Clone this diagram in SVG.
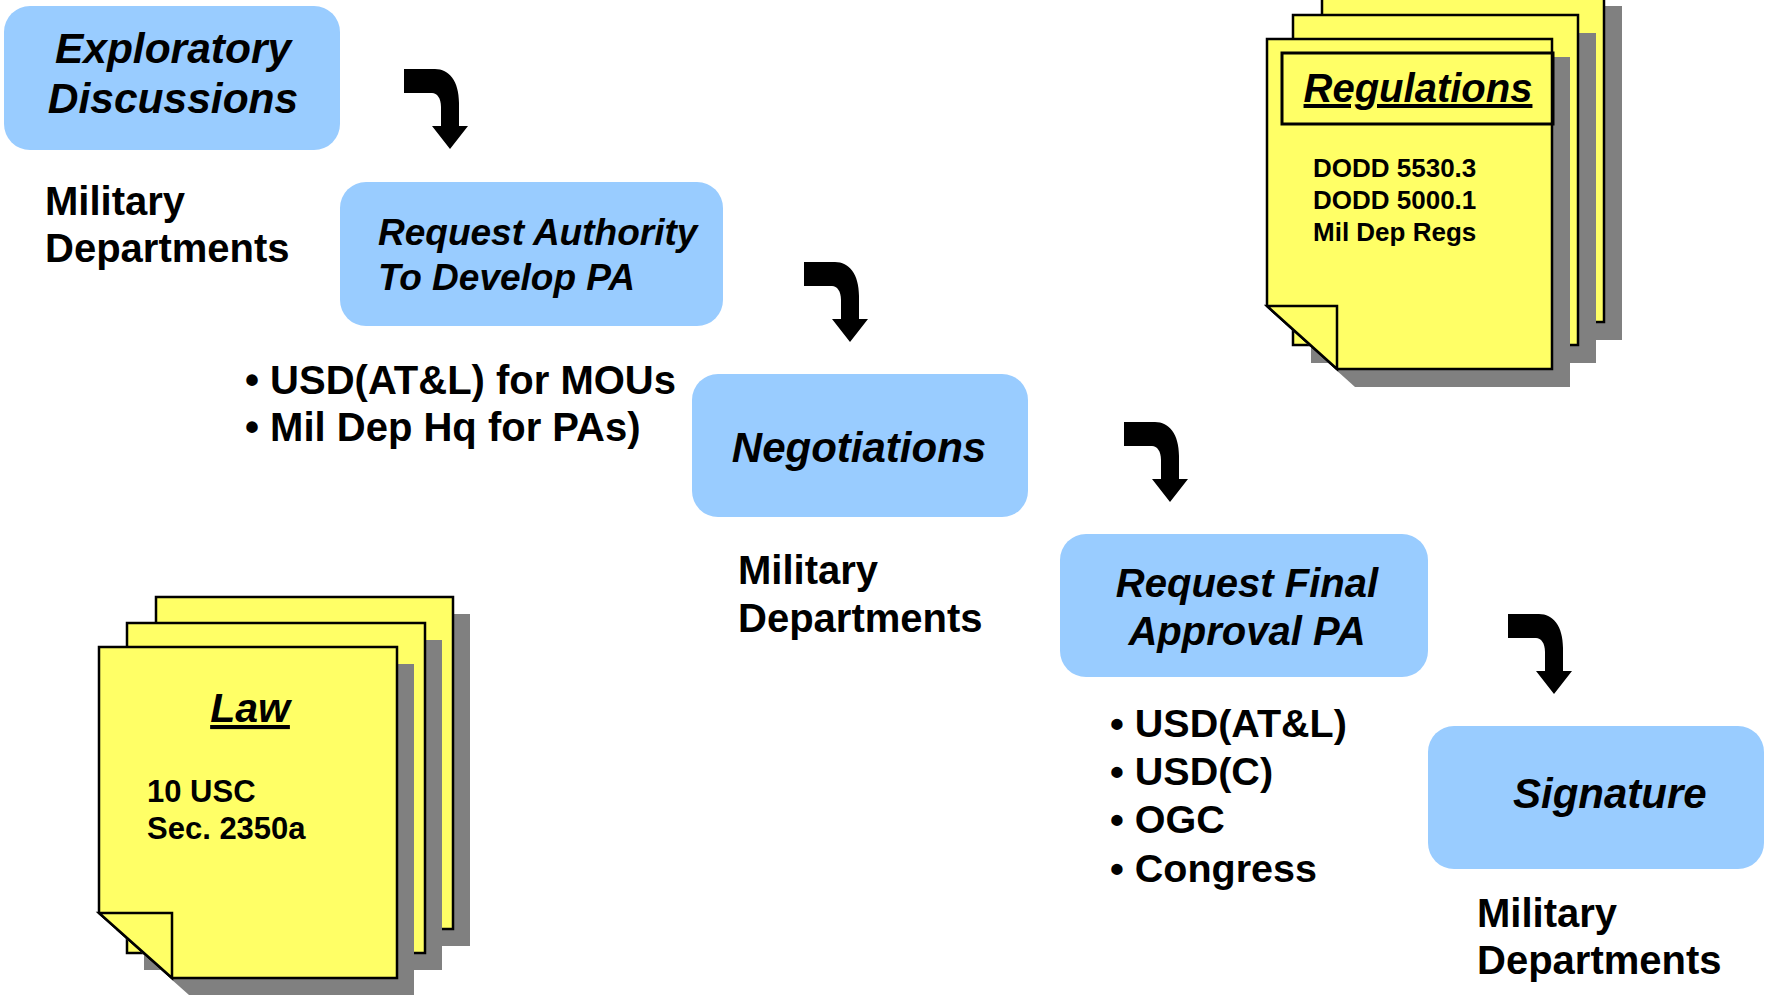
<svg xmlns="http://www.w3.org/2000/svg" width="1767" height="995" viewBox="0 0 1767 995">
  <defs>
    <style>
      .step { fill: #99CCFF; }
      .page { fill: #FFFF66; stroke: #000; stroke-width: 2.5; stroke-linejoin: miter; }
      .shadow { fill: #808080; }
      .title { font-family: "Liberation Sans", Arial, sans-serif; font-weight: bold; font-style: italic; fill: #000; }
      .label { font-family: "Liberation Sans", Arial, sans-serif; font-weight: bold; fill: #000; }
      .flow { fill: #000; }
    </style>
    <!-- bent down-arrow used between consecutive steps -->
    <path id="bend" d="M0,0 H31 C45,0 55,12 55,34 V57 H64 L46,80 L28,57 H37 V38 C37,29 33,24 28,24 H0 Z"/>
  </defs>

  <rect width="1767" height="995" fill="#fff"/>

  <!-- Regulations document stack -->
  <g id="regulations">
    <rect class="shadow" x="1340" y="6" width="282" height="334"/>
    <rect class="page" x="1322" y="-12" width="282" height="334"/>
    <rect class="shadow" x="1311" y="33" width="285" height="330"/>
    <rect class="page" x="1293" y="15" width="285" height="330"/>
    <path class="shadow" d="M1285,57 H1570 V387 H1355 L1285,324 Z"/>
    <path class="page" d="M1267,39 H1552 V369 H1337 L1267,306 Z"/>
    <path class="page" d="M1267,306 H1337 V369 Z"/>
    <rect x="1282" y="53" width="271" height="71" fill="none" stroke="#000" stroke-width="3"/>
    <text class="title" x="1418" y="102" font-size="40" text-anchor="middle" text-decoration="underline">Regulations</text>
    <text class="label" x="1313" y="177" font-size="26">DODD 5530.3</text>
    <text class="label" x="1313" y="209" font-size="26">DODD 5000.1</text>
    <text class="label" x="1313" y="241" font-size="26">Mil Dep Regs</text>
  </g>

  <!-- Law document stack -->
  <g id="law">
    <rect class="shadow" x="173" y="614" width="297" height="332"/>
    <rect class="page" x="156" y="597" width="297" height="332"/>
    <rect class="shadow" x="144" y="640" width="298" height="330"/>
    <rect class="page" x="127" y="623" width="298" height="330"/>
    <path class="shadow" d="M116,664 H414 V995 H189 L116,930 Z"/>
    <path class="page" d="M99,647 H397 V978 H172 L99,913 Z"/>
    <path class="page" d="M99,913 H172 V978 Z"/>
    <text class="title" x="250" y="722" font-size="41" text-anchor="middle" text-decoration="underline">Law</text>
    <text class="label" x="147" y="802" font-size="31">10 USC</text>
    <text class="label" x="147" y="839" font-size="31">Sec. 2350a</text>
  </g>

  <!-- Process steps -->
  <g id="exploratory">
    <rect class="step" x="4" y="6" width="336" height="144" rx="26"/>
    <text class="title" x="173" y="63" font-size="42.5" text-anchor="middle">Exploratory</text>
    <text class="title" x="173" y="113" font-size="42.5" text-anchor="middle">Discussions</text>
  </g>
  <g id="exploratory-owner">
    <text class="label" x="45" y="215" font-size="40">Military</text>
    <text class="label" x="45" y="262" font-size="40">Departments</text>
  </g>

  <g id="request-authority">
    <rect class="step" x="340" y="182" width="383" height="144" rx="26"/>
    <text class="title" x="378" y="245" font-size="37">Request Authority</text>
    <text class="title" x="378" y="290" font-size="37">To Develop PA</text>
  </g>
  <g id="request-authority-owners">
    <text class="label" x="245" y="394" font-size="40">• USD(AT&amp;L) for MOUs</text>
    <text class="label" x="245" y="441" font-size="40">• Mil Dep Hq for PAs)</text>
  </g>

  <g id="negotiations">
    <rect class="step" x="692" y="374" width="336" height="143" rx="26"/>
    <text class="title" x="859" y="462" font-size="42" text-anchor="middle">Negotiations</text>
  </g>
  <g id="negotiations-owner">
    <text class="label" x="738" y="584" font-size="40">Military</text>
    <text class="label" x="738" y="632" font-size="40">Departments</text>
  </g>

  <g id="request-final">
    <rect class="step" x="1060" y="534" width="368" height="143" rx="26"/>
    <text class="title" x="1247" y="597" font-size="40" text-anchor="middle">Request Final</text>
    <text class="title" x="1247" y="645" font-size="40" text-anchor="middle">Approval PA</text>
  </g>
  <g id="request-final-approvers">
    <text class="label" x="1110" y="737" font-size="39.5">• USD(AT&amp;L)</text>
    <text class="label" x="1110" y="785" font-size="39.5">• USD(C)</text>
    <text class="label" x="1110" y="833" font-size="39.5">• OGC</text>
    <text class="label" x="1110" y="882" font-size="39.5">• Congress</text>
  </g>

  <g id="signature">
    <rect class="step" x="1428" y="726" width="336" height="143" rx="26"/>
    <text class="title" x="1513" y="808" font-size="42">Signature</text>
  </g>
  <g id="signature-owner">
    <text class="label" x="1477" y="927" font-size="40">Military</text>
    <text class="label" x="1477" y="974" font-size="40">Departments</text>
  </g>

  <!-- Connectors between steps -->
  <g id="connectors" class="flow">
    <use href="#bend" x="404" y="69"/>
    <use href="#bend" x="804" y="262"/>
    <use href="#bend" x="1124" y="422"/>
    <use href="#bend" x="1508" y="614"/>
  </g>
</svg>
